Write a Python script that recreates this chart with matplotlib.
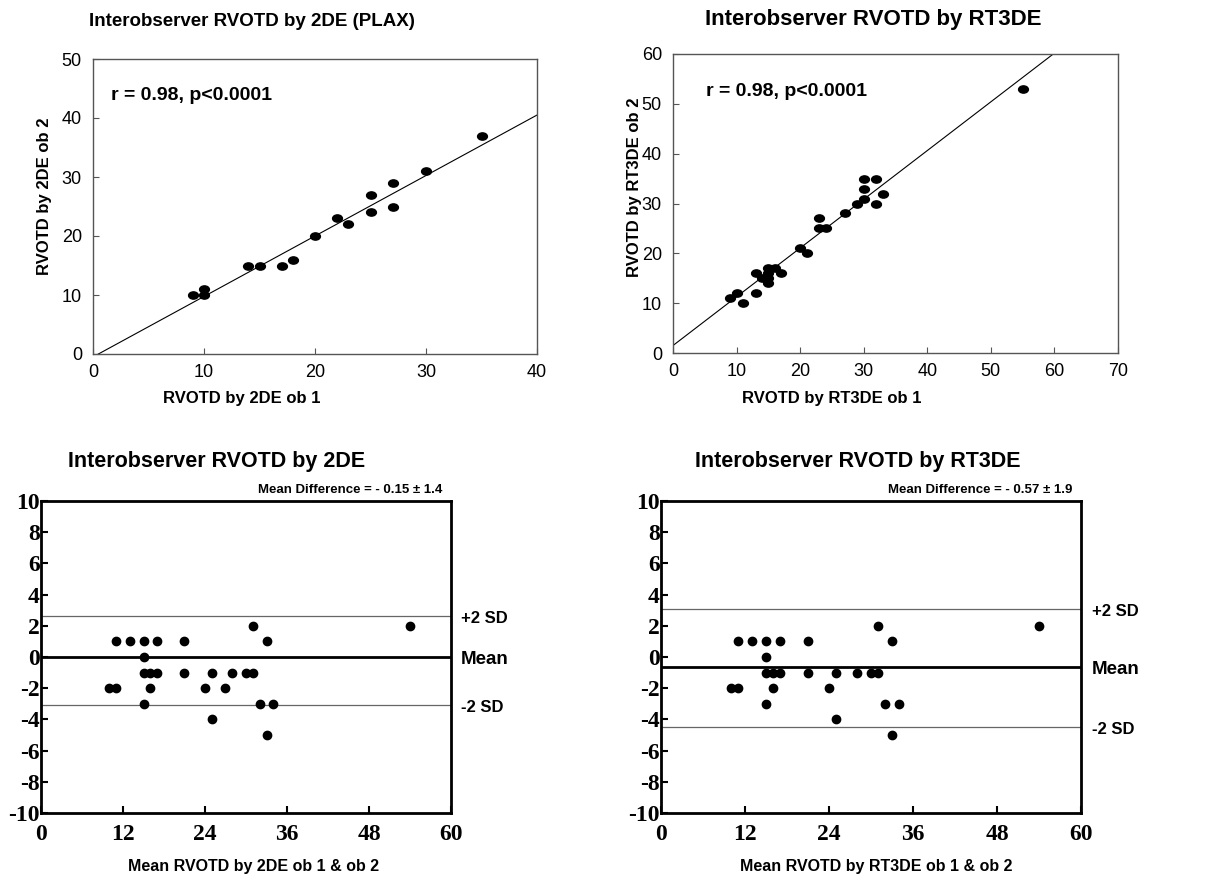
import matplotlib
matplotlib.use("Agg")
import matplotlib.pyplot as plt
import matplotlib.transforms as mtransforms
from matplotlib.path import Path
import numpy as np

plt.rcParams["axes.unicode_minus"] = False
SANS = ["Liberation Sans", "DejaVu Sans"]
SERIF = ["Liberation Serif", "DejaVu Serif"]

# --- dados: correlação 2DE (PLAX) ---
ob1_2de = [9, 10, 10, 14, 15, 17, 18, 20, 22, 23, 25, 25, 27, 27, 30, 35]
ob2_2de = [10, 11, 10, 15, 15, 15, 16, 20, 23, 22, 27, 24, 29, 25, 31, 37]
reg_2de = [1.025, -0.5]          # inclinação, intercepto

# --- dados: correlação RT3DE ---
ob1_3d = [9, 10, 11, 13, 13, 14, 15, 15, 15, 15, 16, 17, 20, 21, 23, 23, 24,
          27, 29, 30, 30, 30, 32, 32, 33, 55]
ob2_3d = [11, 12, 10, 16, 12, 15, 17, 16, 15, 14, 17, 16, 21, 20, 27, 25, 25,
          28, 30, 31, 33, 35, 35, 30, 32, 53]
reg_3d = [0.978, 1.5]

# --- dados: Bland-Altman 2DE ---
ba_mean_2de = [10, 11, 11, 13, 15, 15, 15, 15, 16, 16, 17, 17, 21, 21, 24, 25,
               25, 27, 28, 30, 31, 31, 32, 33, 33, 34, 54]
ba_diff_2de = [-2, -2, 1, 1, 1, 0, -1, -3, -1, -2, 1, -1, 1, -1, -2, -1,
               -4, -2, -1, -1, -1, 2, -3, 1, -5, -3, 2]
lim_2de = [2.62, 0.0, -3.08]     # +2 SD, média, -2 SD

# --- dados: Bland-Altman RT3DE ---
ba_mean_3d = [10, 11, 11, 13, 15, 15, 15, 15, 16, 16, 17, 17, 21, 21, 24, 25,
              25, 28, 30, 31, 31, 32, 33, 33, 34, 54]
ba_diff_3d = [-2, -2, 1, 1, 1, 0, -1, -3, -1, -2, 1, -1, 1, -1, -2, -1,
              -4, -1, -1, -1, 2, -3, 1, -5, -3, 2]
lim_3d = [3.07, -0.64, -4.48]

W, H = 1224, 876

# marcador elíptico (pontos achatados do original)
_c = Path.unit_circle()
ELIPSE = Path(_c.vertices * np.array([1.35, 1.0]), _c.codes)


def px(fig, x, y, s, **kw):
    """texto posicionado em pixels (origem no canto superior esquerdo)"""
    kw.setdefault("ha", "center")
    kw.setdefault("va", "center")
    fig.text(x / W, 1 - y / H, s, fontweight="bold", family=SANS, **kw)


def painel_corr(ax, x, y, reg, xmax, ymax, xstep, ystep, rx):
    ax.scatter(x, y, marker=ELIPSE, s=50, color="black", zorder=3)
    xs = np.array([0, xmax])
    ax.plot(xs, reg[0] * xs + reg[1], color="black", lw=0.8, zorder=2)
    ax.set_xlim(0, xmax)
    ax.set_ylim(0, ymax)
    ax.set_xticks(np.arange(0, xmax + 1, xstep))
    ax.set_yticks(np.arange(0, ymax + 1, ystep))
    for s in ax.spines.values():
        s.set_color("#555555")
        s.set_linewidth(1.0)
    ax.tick_params(direction="in", length=4, color="#555555", labelsize=13)
    ax.tick_params(axis="x", pad=7)
    ax.tick_params(axis="y", pad=8)
    for lb in ax.get_xticklabels() + ax.get_yticklabels():
        lb.set_family(SANS)
    ax.text(rx, 0.875, "r = 0.98, p<0.0001", transform=ax.transAxes,
            fontsize=14, fontweight="bold", family=SANS, va="center")


def painel_ba(ax, x, d, lim, subtitulo):
    ax.scatter(x, d, marker="o", s=36, color="black", zorder=3)
    ax.axhline(lim[0], color="#666666", lw=0.9, zorder=2)
    ax.axhline(lim[1], color="black", lw=2.0, zorder=2)
    ax.axhline(lim[2], color="#666666", lw=0.9, zorder=2)
    ax.set_xlim(0, 60)
    ax.set_ylim(-10, 10)
    ax.set_xticks(np.arange(0, 61, 12))
    ax.set_yticks(np.arange(-10, 11, 2))
    for s in ax.spines.values():
        s.set_color("black")
        s.set_linewidth(2.0)
    ax.tick_params(direction="in", length=5, width=1.5, labelsize=17)
    ax.tick_params(axis="x", pad=8)
    ax.tick_params(axis="y", pad=1)
    for lb in ax.get_xticklabels() + ax.get_yticklabels():
        lb.set_family(SERIF)
        lb.set_fontweight("bold")
    ax.text(0.98, 1.015, subtitulo, transform=ax.transAxes, ha="right", va="bottom",
            fontsize=9.5, fontweight="bold", family=SANS)
    tr = mtransforms.blended_transform_factory(ax.transAxes, ax.transData)
    for val, txt, fs in zip(lim, ["+2 SD", "Mean", "-2 SD"], [12, 13.5, 12]):
        ax.text(1.025, val - 0.15, txt, transform=tr, va="center", ha="left",
                fontsize=fs, fontweight="bold", family=SANS)


fig = plt.figure(figsize=(W / 100, H / 100), dpi=100)
ax1 = fig.add_axes([93 / W, 1 - 354 / H, 444 / W, 295 / H])
ax2 = fig.add_axes([673 / W, 1 - 353 / H, 445 / W, 299 / H])
ax3 = fig.add_axes([41 / W, 1 - 813 / H, 410 / W, 312 / H])
ax4 = fig.add_axes([661 / W, 1 - 813 / H, 420 / W, 312 / H])

painel_corr(ax1, ob1_2de, ob2_2de, reg_2de, 40, 50, 10, 10, 0.04)
painel_corr(ax2, ob1_3d, ob2_3d, reg_3d, 70, 60, 10, 10, 0.074)
painel_ba(ax3, ba_mean_2de, ba_diff_2de, lim_2de, "Mean Difference = - 0.15 ± 1.4")
painel_ba(ax4, ba_mean_3d, ba_diff_3d, lim_3d, "Mean Difference = - 0.57 ± 1.9")

# títulos e rótulos dos eixos
px(fig, 252, 21, "Interobserver RVOTD by 2DE (PLAX)", fontsize=13.5)
px(fig, 873, 20, "Interobserver RVOTD by RT3DE", fontsize=16)
px(fig, 242, 398, "RVOTD by 2DE ob 1", fontsize=12)
px(fig, 832, 398, "RVOTD by RT3DE ob 1", fontsize=12)
px(fig, 45, 196, "RVOTD by 2DE ob 2", fontsize=12, rotation=90)
px(fig, 635, 187, "RVOTD by RT3DE ob 2", fontsize=12, rotation=90)

px(fig, 217, 462, "Interobserver RVOTD by 2DE", fontsize=15.5)
px(fig, 858, 462, "Interobserver RVOTD by RT3DE", fontsize=15.5)
px(fig, 254, 866, "Mean RVOTD by 2DE ob 1 & ob 2", fontsize=11.5)
px(fig, 876, 866, "Mean RVOTD by RT3DE ob 1 & ob 2", fontsize=11.5)

fig.savefig("out.png", dpi=100)
